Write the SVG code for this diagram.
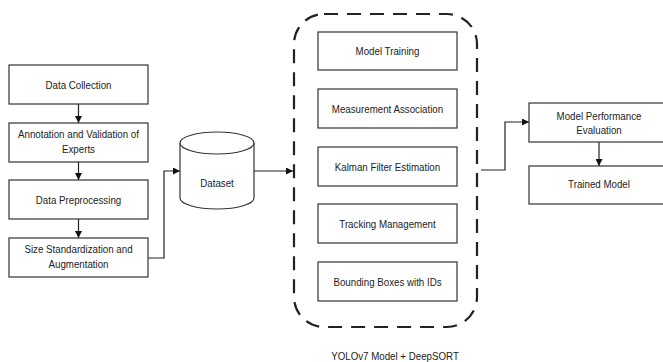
<svg xmlns="http://www.w3.org/2000/svg" width="663" height="362" viewBox="0 0 663 362">
<style>
.box{fill:#fff;stroke:#333;stroke-width:1.2}
.t{font-family:"Liberation Sans",Arial,sans-serif;font-size:11px;fill:#222;text-anchor:middle}
.c{fill:none;stroke:#222;stroke-width:1.2}
.dash{fill:none;stroke:#222;stroke-width:2.2;stroke-dasharray:14 9}
</style>
<defs>
<marker id="ah" viewBox="0 0 10 10" refX="10" refY="5" markerWidth="7" markerHeight="7" markerUnits="userSpaceOnUse" orient="auto">
<path d="M0,0 L10,5 L0,10 z" fill="#111"/>
</marker>
</defs>
<rect width="663" height="362" fill="#fff"/>

<g id="connectors">
<path class="c" d="M78.5,104 V123" marker-end="url(#ah)"/>
<path class="c" d="M78.5,162 V180" marker-end="url(#ah)"/>
<path class="c" d="M78.5,219 V238" marker-end="url(#ah)"/>
<path class="c" d="M148,258 H164 V171 H180" marker-end="url(#ah)"/>
<path class="c" d="M254,171 H293" marker-end="url(#ah)"/>
<path class="c" d="M481,170 H505 V122 H529" marker-end="url(#ah)"/>
<path class="c" d="M599,142 V166" marker-end="url(#ah)"/>
</g>

<g id="data-collection">
<rect class="box" x="9" y="65" width="139" height="39"/>
<text class="t" transform="translate(78.5,88.5) scale(.885,1)">Data Collection</text>
</g>
<g id="annotation">
<rect class="box" x="9" y="123" width="139" height="39"/>
<text class="t" transform="translate(78.5,138) scale(.885,1)">Annotation and Validation of</text>
<text class="t" transform="translate(78.5,153) scale(.885,1)">Experts</text>
</g>
<g id="data-preprocessing">
<rect class="box" x="9" y="180" width="139" height="39"/>
<text class="t" transform="translate(78.5,203.5) scale(.885,1)">Data Preprocessing</text>
</g>
<g id="size-standardization">
<rect class="box" x="9" y="238" width="139" height="39"/>
<text class="t" transform="translate(78.5,253) scale(.885,1)">Size Standardization and</text>
<text class="t" transform="translate(78.5,268) scale(.885,1)">Augmentation</text>
</g>

<g id="dataset">
<path class="box" d="M180,143 V198 A37,11 0 0 0 254,198 V143"/>
<ellipse class="box" cx="217" cy="143" rx="37" ry="11"/>
<text class="t" transform="translate(217,187) scale(.885,1)">Dataset</text>
</g>

<g id="yolo-deepsort">
<rect class="dash" x="294" y="14" width="183" height="313" rx="30"/>
<text class="t" transform="translate(395,360) scale(.885,1)">YOLOv7 Model + DeepSORT</text>
</g>
<g id="model-training">
<rect class="box" x="318" y="32" width="139" height="38"/>
<text class="t" transform="translate(387.5,55) scale(.885,1)">Model Training</text>
</g>
<g id="measurement-association">
<rect class="box" x="318" y="89" width="139" height="39"/>
<text class="t" transform="translate(387.5,112.5) scale(.885,1)">Measurement Association</text>
</g>
<g id="kalman-filter">
<rect class="box" x="318" y="147" width="139" height="39"/>
<text class="t" transform="translate(387.5,170.5) scale(.885,1)">Kalman Filter Estimation</text>
</g>
<g id="tracking-management">
<rect class="box" x="318" y="204" width="139" height="39"/>
<text class="t" transform="translate(387.5,227.5) scale(.885,1)">Tracking Management</text>
</g>
<g id="bounding-boxes">
<rect class="box" x="318" y="262" width="139" height="39"/>
<text class="t" transform="translate(387.5,285.5) scale(.885,1)">Bounding Boxes with IDs</text>
</g>

<g id="model-performance">
<rect class="box" x="529" y="103" width="140" height="39"/>
<text class="t" transform="translate(599,120) scale(.885,1)">Model Performance</text>
<text class="t" transform="translate(599,134) scale(.885,1)">Evaluation</text>
</g>
<g id="trained-model">
<rect class="box" x="529" y="166" width="140" height="38"/>
<text class="t" transform="translate(599,188) scale(.885,1)">Trained Model</text>
</g>
</svg>
